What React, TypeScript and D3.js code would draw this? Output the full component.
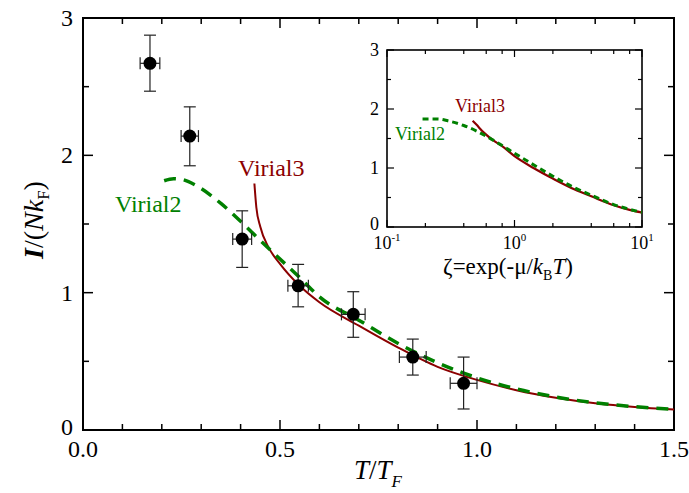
import React from "react";
import * as d3 from "d3";

// ---------- data ----------
const expT = [0.17, 0.271, 0.404, 0.546, 0.686, 0.837, 0.966];
const expI = [2.67, 2.14, 1.39, 1.05, 0.842, 0.531, 0.34];
const expIlo = [2.467, 1.924, 1.184, 0.897, 0.675, 0.40, 0.153];
const expIhi = [2.875, 2.353, 1.596, 1.206, 1.007, 0.662, 0.531];
const expTerr = [0.025, 0.022, 0.024, 0.026, 0.03, 0.034, 0.034];

const virial3T = [0.435, 0.44, 0.45, 0.47, 0.5, 0.55, 0.6, 0.7, 0.8, 0.9, 1.0, 1.1, 1.2, 1.3, 1.4, 1.5];
const virial3I = [1.795, 1.62, 1.48, 1.335, 1.21, 1.05, 0.93, 0.76, 0.6, 0.46, 0.365, 0.29, 0.235, 0.195, 0.168, 0.15];

const virial2T = [0.206, 0.23, 0.25, 0.29, 0.35, 0.4, 0.45, 0.5, 0.55, 0.6, 0.7, 0.8, 0.9, 1.0, 1.1, 1.2, 1.3, 1.4, 1.5];
const virial2I = [1.815, 1.83, 1.825, 1.775, 1.65, 1.52, 1.38, 1.245, 1.11, 0.97, 0.8, 0.63, 0.49, 0.38, 0.3, 0.24, 0.198, 0.17, 0.15];

const insetV2Z = [0.19, 0.25, 0.3, 0.4, 0.5, 0.6, 0.8, 1.0, 1.5, 2, 3, 4, 6, 8, 10];
const insetV2I = [1.83, 1.83, 1.8, 1.72, 1.63, 1.54, 1.38, 1.25, 1.02, 0.86, 0.66, 0.54, 0.38, 0.3, 0.25];
const insetV3Z = [0.47, 0.5, 0.575, 0.7, 0.8, 1.0, 1.41, 2, 3, 4, 6, 8, 10];
const insetV3I = [1.8, 1.74, 1.6, 1.45, 1.37, 1.2, 1.0, 0.82, 0.63, 0.52, 0.37, 0.29, 0.245];

const xMajor = [0, 0.5, 1.0, 1.5];
const xMajorLabels = ["0.0", "0.5", "1.0", "1.5"];
const yMajor = [0, 1, 2, 3];
const yMajorLabels = ["0", "1", "2", "3"];
const insetYMajor = [0, 1, 2, 3];
const insetXMajor = [0.1, 1, 10];
const insetXExp = ["-1", "0", "1"];

const RED = "#8b0000";
const GREEN = "#008000";
const FF = "Liberation Serif";

export default function App() {
  // main plot frame
  const L = 83, R = 674, T = 18, B = 430;
  const x = d3.scaleLinear().domain([0, 1.5]).range([L, R]);
  const y = d3.scaleLinear().domain([0, 3]).range([B, T]);

  // inset frame
  const iL = 387, iR = 642, iT = 50, iB = 227;
  const ix = d3.scaleLog().domain([0.1, 10]).range([iL, iR]);
  const iy = d3.scaleLinear().domain([0, 3]).range([iB, iT]);

  const line = d3.line<[number, number]>().curve(d3.curveMonotoneX);
  const v3Path = line(virial3T.map((t, i) => [x(t), y(virial3I[i])]));
  const v2Path = line(virial2T.map((t, i) => [x(t), y(virial2I[i])]));
  const iv3Path = line(insetV3Z.map((z, i) => [ix(z), iy(insetV3I[i])]));
  const iv2Path = line(insetV2Z.map((z, i) => [ix(z), iy(insetV2I[i])]));

  const xMinor = d3.range(0, 1.5001, 0.1).filter((v) => !xMajor.some((m) => Math.abs(m - v) < 1e-6));
  const yMinor = [0.5, 1.5, 2.5];
  const insetXMinor: number[] = [];
  [0.1, 1].forEach((d) => [2, 4, 6, 8].forEach((k) => insetXMinor.push(d * k)));

  return (
    <svg width={689} height={493} style={{ position: "absolute", left: 0, top: 0, background: "#fff" }}>
      <rect x={0} y={0} width={689} height={493} fill="#fff" />

      {/* main ticks */}
      <g stroke="#000" strokeWidth={1.5}>
        {xMajor.map((v, i) => (
          <g key={"xM" + i}>
            <line x1={x(v)} x2={x(v)} y1={B} y2={B - 10} />
            <line x1={x(v)} x2={x(v)} y1={T} y2={T + 10} />
          </g>
        ))}
        {xMinor.map((v, i) => (
          <g key={"xm" + i}>
            <line x1={x(v)} x2={x(v)} y1={B} y2={B - 6} />
            <line x1={x(v)} x2={x(v)} y1={T} y2={T + 6} />
          </g>
        ))}
        {yMajor.map((v, i) => (
          <g key={"yM" + i}>
            <line x1={L} x2={L + 10} y1={y(v)} y2={y(v)} />
            <line x1={R} x2={R - 10} y1={y(v)} y2={y(v)} />
          </g>
        ))}
        {yMinor.map((v, i) => (
          <g key={"ym" + i}>
            <line x1={L} x2={L + 6} y1={y(v)} y2={y(v)} />
            <line x1={R} x2={R - 6} y1={y(v)} y2={y(v)} />
          </g>
        ))}
      </g>
      <rect x={L} y={T} width={R - L} height={B - T} fill="none" stroke="#000" strokeWidth={2} />

      {/* main tick labels */}
      {xMajor.map((v, i) => (
        <text key={"xl" + i} x={x(v)} y={457} textAnchor="middle" fontFamily={FF} fontSize={24}>{xMajorLabels[i]}</text>
      ))}
      {yMajor.map((v, i) => (
        <text key={"yl" + i} x={73} y={y(v) + (v === 0 ? 5 : 8)} textAnchor="end" fontFamily={FF} fontSize={24}>{yMajorLabels[i]}</text>
      ))}

      {/* axis titles */}
      <text x={378} y={479} fontSize={27} textAnchor="middle" fontFamily={FF}>
        <tspan fontStyle="italic">T</tspan>
        <tspan>/</tspan>
        <tspan fontStyle="italic">T</tspan>
        <tspan fontStyle="italic" fontSize={17} dy={8}>F</tspan>
      </text>
      <text transform="translate(43,220) rotate(-90)" fontSize={28} textAnchor="middle" fontFamily={FF}>
        <tspan fontStyle="italic" fontWeight="bold">I</tspan>
        <tspan>/(</tspan>
        <tspan fontStyle="italic">Nk</tspan>
        <tspan fontSize={17} dy={6}>F</tspan>
        <tspan dy={-6}>)</tspan>
      </text>

      {/* inset */}
      <rect x={iL} y={iT} width={iR - iL} height={iB - iT} fill="#fff" />
      <g stroke="#000" strokeWidth={1.2}>
        {insetXMajor.map((v, i) => (
          <g key={"ixM" + i}>
            <line x1={ix(v)} x2={ix(v)} y1={iB} y2={iB - 7} />
            <line x1={ix(v)} x2={ix(v)} y1={iT} y2={iT + 7} />
          </g>
        ))}
        {insetXMinor.map((v, i) => (
          <g key={"ixm" + i}>
            <line x1={ix(v)} x2={ix(v)} y1={iB} y2={iB - 4} />
            <line x1={ix(v)} x2={ix(v)} y1={iT} y2={iT + 4} />
          </g>
        ))}
        {insetYMajor.map((v, i) => (
          <g key={"iyM" + i}>
            <line x1={iL} x2={iL + 7} y1={iy(v)} y2={iy(v)} />
            <line x1={iR} x2={iR - 7} y1={iy(v)} y2={iy(v)} />
          </g>
        ))}
        {yMinor.map((v, i) => (
          <g key={"iym" + i}>
            <line x1={iL} x2={iL + 4} y1={iy(v)} y2={iy(v)} />
            <line x1={iR} x2={iR - 4} y1={iy(v)} y2={iy(v)} />
          </g>
        ))}
      </g>
      <rect x={iL} y={iT} width={iR - iL} height={iB - iT} fill="none" stroke="#000" strokeWidth={1.6} />
      {insetYMajor.map((v, i) => (
        <text key={"iyl" + i} x={379} y={iy(v) + (v === 0 ? 3 : 6)} textAnchor="end" fontFamily={FF} fontSize={18}>{String(v)}</text>
      ))}
      {insetXMajor.map((v, i) => (
        <text key={"ixl" + i} x={ix(v)} y={249} textAnchor="middle" fontFamily={FF} fontSize={18}>
          10<tspan fontSize={11} dy={-8}>{insetXExp[i]}</tspan>
        </text>
      ))}
      <text x={508} y={274} fontSize={23} textAnchor="middle" fontFamily={FF}>
        <tspan>ζ=exp(-μ/</tspan>
        <tspan fontStyle="italic">k</tspan>
        <tspan fontSize={14} dy={6}>B</tspan>
        <tspan fontStyle="italic" dy={-6}>T</tspan>
        <tspan>)</tspan>
      </text>
      <path d={iv3Path || ""} fill="none" stroke={RED} strokeWidth={2.2} />
      <path d={iv2Path || ""} fill="none" stroke={GREEN} strokeWidth={3} strokeDasharray="6 4" />
      <text x={455} y={112} fontSize={18} fill={RED} fontFamily={FF}>Virial3</text>
      <text x={395} y={140} fontSize={18} fill={GREEN} fontFamily={FF}>Virial2</text>

      {/* main curves */}
      <path d={v3Path || ""} fill="none" stroke={RED} strokeWidth={2} />
      <path d={v2Path || ""} fill="none" stroke={GREEN} strokeWidth={3.5} strokeDasharray="12 8" />
      <text x={238} y={176} fontSize={24} fill={RED} fontFamily={FF}>Virial3</text>
      <text x={115} y={212} fontSize={24} fill={GREEN} fontFamily={FF}>Virial2</text>

      {/* data with error bars */}
      <g stroke="#222" strokeWidth={1.2}>
        {expT.map((t, i) => (
          <g key={"e" + i}>
            <line x1={x(t)} x2={x(t)} y1={y(expIlo[i])} y2={y(expIhi[i])} />
            <line x1={x(t) - 6} x2={x(t) + 6} y1={y(expIlo[i])} y2={y(expIlo[i])} />
            <line x1={x(t) - 6} x2={x(t) + 6} y1={y(expIhi[i])} y2={y(expIhi[i])} />
            <line x1={x(t - expTerr[i])} x2={x(t + expTerr[i])} y1={y(expI[i])} y2={y(expI[i])} />
            <line x1={x(t - expTerr[i])} x2={x(t - expTerr[i])} y1={y(expI[i]) - 6} y2={y(expI[i]) + 6} />
            <line x1={x(t + expTerr[i])} x2={x(t + expTerr[i])} y1={y(expI[i]) - 6} y2={y(expI[i]) + 6} />
          </g>
        ))}
      </g>
      {expT.map((t, i) => (
        <circle key={"c" + i} cx={x(t)} cy={y(expI[i])} r={6.5} fill="#000" />
      ))}
    </svg>
  );
}
